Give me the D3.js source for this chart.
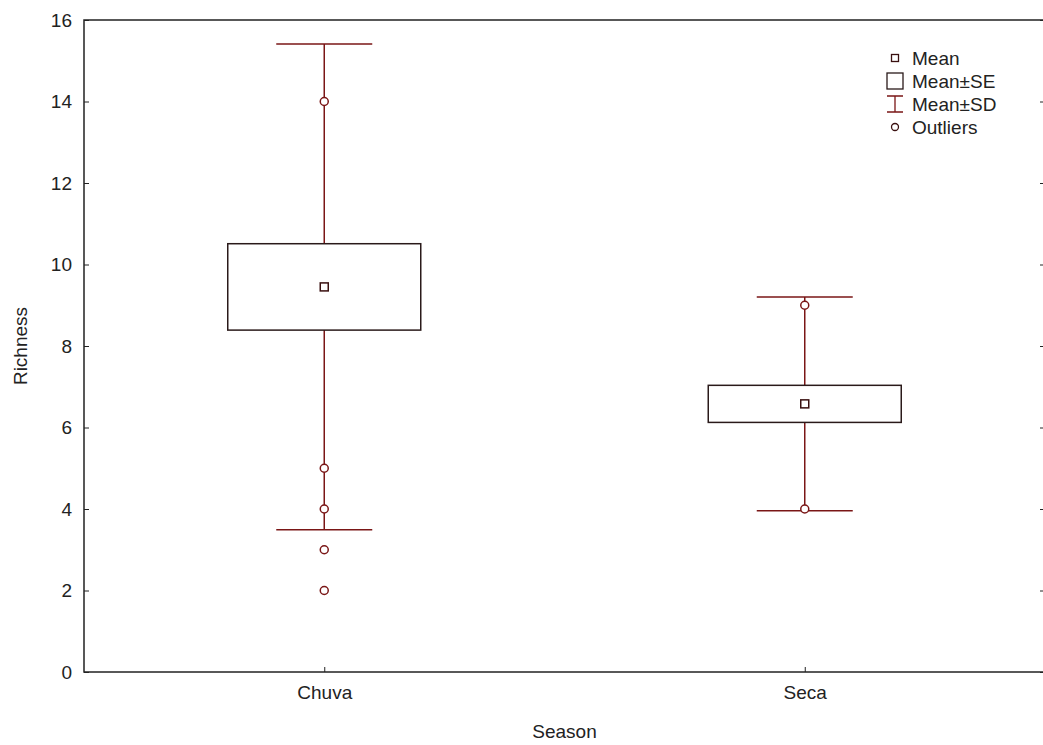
<!DOCTYPE html>
<head>
  <meta charset="utf-8">
  <script src="https://d3js.org/d3.v7.min.js"></script>
  <style>
    body { margin: 0; background: #fff; }
    svg text { font-family: "Liberation Sans", Arial, sans-serif; fill: #222; }
  </style>
</head>
<body>
  <div id="chart"></div>
  <script>
    // data
    var seasons = ["Chuva", "Seca"];
    var means = [9.45, 6.58];
    var se = [1.06, 0.455];
    var sd = [5.96, 2.62];
    var outliers = [[14, 5, 4, 3, 2], [9, 4]];
    var yTicks = [0, 2, 4, 6, 8, 10, 12, 14, 16];
    var legendItems = ["Mean", "Mean\u00b1SE", "Mean\u00b1SD", "Outliers"];

    var width = 1043, height = 745;
    var margin = {left: 84, right: -2, top: 20, bottom: 73};
    var red = "#7a1616";
    var fs = "19px";

    var svg = d3.select("#chart").append("svg")
      .attr("width", width)
      .attr("height", height);

    var x = d3.scalePoint()
      .domain(seasons)
      .range([margin.left, width - margin.right])
      .padding(0.5);

    var y = d3.scaleLinear()
      .domain([0, 16])
      .range([height - margin.bottom, margin.top]);

    var x0 = margin.left, x1 = width - margin.right;
    var yb = y(0), yt = y(16);

    // frame
    svg.append("rect")
      .attr("x", x0).attr("y", yt)
      .attr("width", x1 - x0).attr("height", yb - yt)
      .attr("fill", "none").attr("stroke", "#222").attr("stroke-width", 1.5);

    // left axis, ticks inward
    var left = svg.append("g").attr("transform", "translate(" + x0 + ",0)")
      .call(d3.axisLeft(y).tickValues(yTicks).tickSize(-5).tickPadding(12));
    left.select(".domain").remove();
    left.selectAll("line").attr("stroke", "#222");
    left.selectAll("text").style("font-size", fs).attr("fill", "#222");

    // right ticks
    var right = svg.append("g").attr("transform", "translate(" + x1 + ",0)")
      .call(d3.axisRight(y).tickValues(yTicks).tickSize(-5).tickFormat(""));
    right.select(".domain").remove();
    right.selectAll("line").attr("stroke", "#222");

    // bottom axis
    var bottom = svg.append("g").attr("transform", "translate(0," + yb + ")")
      .call(d3.axisBottom(x).tickSize(-5).tickPadding(14));
    bottom.select(".domain").remove();
    bottom.selectAll("line").attr("stroke", "#222");
    bottom.selectAll("text").style("font-size", fs).attr("fill", "#222");

    // axis titles
    svg.append("text")
      .attr("x", (x0 + x1) / 2).attr("y", 738)
      .attr("text-anchor", "middle")
      .style("font-size", fs)
      .text("Season");
    svg.append("text")
      .attr("transform", "translate(27," + (yt + yb) / 2 + ") rotate(-90)")
      .attr("text-anchor", "middle")
      .style("font-size", fs)
      .text("Richness");

    var boxHalf = 96.5, capHalf = 48;

    var g = svg.selectAll(".season")
      .data(seasons)
      .enter().append("g")
      .attr("class", "season");

    // whisker (mean +- SD)
    g.append("line")
      .attr("x1", function(d) { return x(d); })
      .attr("x2", function(d) { return x(d); })
      .attr("y1", function(d, i) { return y(means[i] + sd[i]); })
      .attr("y2", function(d, i) { return y(means[i] - sd[i]); })
      .attr("stroke", red).attr("stroke-width", 1.5);
    g.append("line")
      .attr("x1", function(d) { return x(d) - capHalf; })
      .attr("x2", function(d) { return x(d) + capHalf; })
      .attr("y1", function(d, i) { return y(means[i] + sd[i]); })
      .attr("y2", function(d, i) { return y(means[i] + sd[i]); })
      .attr("stroke", red).attr("stroke-width", 1.5);
    g.append("line")
      .attr("x1", function(d) { return x(d) - capHalf; })
      .attr("x2", function(d) { return x(d) + capHalf; })
      .attr("y1", function(d, i) { return y(means[i] - sd[i]); })
      .attr("y2", function(d, i) { return y(means[i] - sd[i]); })
      .attr("stroke", red).attr("stroke-width", 1.5);

    // box (mean +- SE)
    g.append("rect")
      .attr("x", function(d) { return x(d) - boxHalf; })
      .attr("y", function(d, i) { return y(means[i] + se[i]); })
      .attr("width", boxHalf * 2)
      .attr("height", function(d, i) { return y(means[i] - se[i]) - y(means[i] + se[i]); })
      .attr("fill", "#fff").attr("stroke", "#2a1a1a").attr("stroke-width", 1.5);

    // mean
    g.append("rect")
      .attr("x", function(d) { return x(d) - 4; })
      .attr("y", function(d, i) { return y(means[i]) - 4; })
      .attr("width", 8).attr("height", 8)
      .attr("fill", "#fff").attr("stroke", "#3a1010").attr("stroke-width", 1.5);

    // outliers
    g.each(function(d, i) {
      d3.select(this).selectAll("circle")
        .data(outliers[i])
        .enter().append("circle")
        .attr("cx", x(d))
        .attr("cy", function(v) { return y(v); })
        .attr("r", 4)
        .attr("fill", "#fff").attr("stroke", red).attr("stroke-width", 1.5);
    });

    // legend
    var lx = 895, ly0 = 58, lstep = 23;
    var legend = svg.append("g");
    legend.selectAll("text")
      .data(legendItems)
      .enter().append("text")
      .attr("x", lx + 17)
      .attr("y", function(d, i) { return ly0 + i * lstep; })
      .attr("dy", "0.35em")
      .style("font-size", fs)
      .text(function(d) { return d; });

    legend.append("rect")
      .attr("x", lx - 3.5).attr("y", ly0 - 3.5).attr("width", 7).attr("height", 7)
      .attr("fill", "#fff").attr("stroke", "#3a1010").attr("stroke-width", 1.3);
    legend.append("rect")
      .attr("x", lx - 8).attr("y", ly0 + lstep - 8).attr("width", 16).attr("height", 16)
      .attr("fill", "#fff").attr("stroke", "#2a1a1a").attr("stroke-width", 1.3);
    var sy = ly0 + 2 * lstep;
    legend.append("path")
      .attr("d", "M" + (lx - 8) + "," + (sy - 8) + "H" + (lx + 8) +
                 "M" + lx + "," + (sy - 8) + "V" + (sy + 8) +
                 "M" + (lx - 8) + "," + (sy + 8) + "H" + (lx + 8))
      .attr("fill", "none").attr("stroke", red).attr("stroke-width", 1.3);
    legend.append("circle")
      .attr("cx", lx).attr("cy", ly0 + 3 * lstep).attr("r", 3.5)
      .attr("fill", "#fff").attr("stroke", "#3a1010").attr("stroke-width", 1.3);
  </script>
</body>
